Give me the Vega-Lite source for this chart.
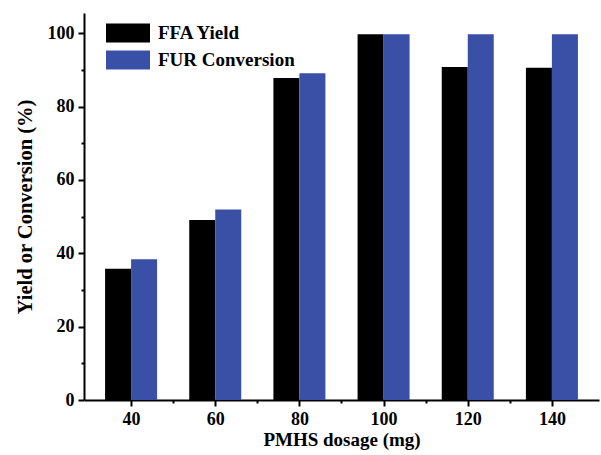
{
  "$schema": "https://vega.github.io/schema/vega-lite/v6.json",
  "width": 515,
  "height": 387,
  "autosize": {"type": "none"},
  "padding": {"left": 84, "top": 13, "right": 2, "bottom": 55},
  "background": "white",
  "config": {
    "view": {"stroke": null},
    "font": "Liberation Serif",
    "axis": {
      "labelFont": "Liberation Serif",
      "labelFontWeight": "bold",
      "labelFontSize": 18,
      "labelColor": "black",
      "titleFont": "Liberation Serif",
      "titleFontWeight": "bold",
      "titleFontSize": 19,
      "titleColor": "black",
      "domainColor": "black",
      "domainWidth": 2,
      "tickColor": "black",
      "tickWidth": 2,
      "grid": false
    }
  },
  "data": {
    "values": [
      {"dosage": 40, "series": "FFA Yield", "value": 35.8},
      {"dosage": 40, "series": "FUR Conversion", "value": 38.4},
      {"dosage": 60, "series": "FFA Yield", "value": 49.1},
      {"dosage": 60, "series": "FUR Conversion", "value": 51.9},
      {"dosage": 80, "series": "FFA Yield", "value": 87.8},
      {"dosage": 80, "series": "FUR Conversion", "value": 89.1},
      {"dosage": 100, "series": "FFA Yield", "value": 99.7},
      {"dosage": 100, "series": "FUR Conversion", "value": 99.7},
      {"dosage": 120, "series": "FFA Yield", "value": 90.8},
      {"dosage": 120, "series": "FUR Conversion", "value": 99.7},
      {"dosage": 140, "series": "FFA Yield", "value": 90.6},
      {"dosage": 140, "series": "FUR Conversion", "value": 99.7}
    ]
  },
  "encoding": {
    "x": {
      "field": "dosage",
      "type": "quantitative",
      "scale": {"domain": [30, 150], "nice": false, "zero": false},
      "axis": {
        "title": "PMHS dosage (mg)",
        "values": [40, 50, 60, 70, 80, 90, 100, 110, 120, 130, 140],
        "labelExpr": "datum.value % 20 ? '' : datum.label",
        "tickSize": {"expr": "datum.value % 20 ? 3 : 6"},
        "labelPadding": 4,
        "titlePadding": 2
      }
    },
    "y": {
      "field": "value",
      "type": "quantitative",
      "scale": {"domain": [0, 105.5], "nice": false},
      "axis": {
        "title": "Yield or Conversion (%)",
        "titleFontSize": 20.5,
        "values": [0, 10, 20, 30, 40, 50, 60, 70, 80, 90, 100],
        "labelExpr": "datum.value % 20 ? '' : datum.label",
        "tickSize": {"expr": "datum.value % 20 ? 3 : 6"},
        "labelPadding": 4,
        "titlePadding": 12
      }
    },
    "color": {
      "field": "series",
      "type": "nominal",
      "scale": {"domain": ["FFA Yield", "FUR Conversion"], "range": ["#000000", "#3a4fa6"]},
      "legend": {
        "title": null,
        "orient": "none",
        "legendX": 33,
        "legendY": 9,
        "padding": 0,
        "symbolType": "M-2,-0.86H2V0.86H-2Z",
        "symbolSize": 484,
        "symbolStrokeWidth": 0,
        "symbolOpacity": 1,
        "labelFont": "Liberation Serif",
        "labelFontWeight": "bold",
        "labelFontSize": 19,
        "labelColor": "black",
        "labelOffset": 19,
        "rowPadding": 6
      }
    }
  },
  "layer": [
    {
      "transform": [{"filter": "datum.series === 'FFA Yield'"}],
      "mark": {"type": "bar", "width": 26, "xOffset": -13}
    },
    {
      "transform": [{"filter": "datum.series === 'FUR Conversion'"}],
      "mark": {"type": "bar", "width": 26, "xOffset": 13}
    }
  ]
}
